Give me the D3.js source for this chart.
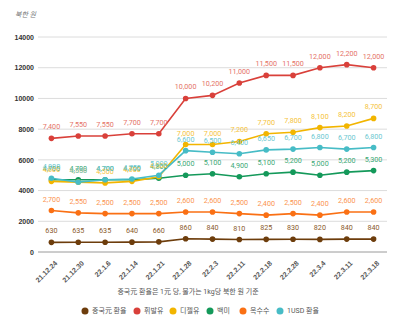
<!DOCTYPE html>
<html><head><meta charset="utf-8">
<script src="https://cdn.jsdelivr.net/npm/d3@7"></script>
<style>body{margin:0;background:#fff;}svg{display:block;font-family:Roboto,"Noto Sans CJK KR",sans-serif;}</style>
</head><body>
<svg id="c" width="400" height="325"></svg>
<script>
const dates = ["21.12.24","21.12.30","22.1.6","22.1.14","22.1.21","22.1.28","22.2.3","22.2.11","22.2.18","22.2.28","22.3.4","22.3.11","22.3.18"];
const yuan     = [630,635,635,640,660,860,840,810,825,830,820,840,840];
const gasoline = [7400,7550,7550,7700,7700,10000,10200,11000,11500,11500,12000,12200,12000];
const diesel   = [4600,4550,4500,4600,4900,7000,7000,7200,7700,7800,8100,8200,8700];
const rice     = [4700,4700,4700,4700,4800,5000,5100,4900,5100,5200,5000,5200,5300];
const corn     = [2700,2550,2500,2500,2500,2600,2600,2500,2400,2500,2400,2600,2600];
const usd      = [4800,4550,4700,4750,5000,6600,6500,6400,6650,6700,6800,6700,6800];
const yTicks = [0,2000,4000,6000,8000,10000,12000,14000];
const seriesNames = ["중국元 환율","휘발유","디젤유","백미","옥수수","1USD 환율"];

const series = [
  {name:seriesNames[0], values:yuan, color:"#6d3d0c", label:"#8a5a2b"},
  {name:seriesNames[1], values:gasoline, color:"#d9403a", label:"#e57368"},
  {name:seriesNames[2], values:diesel, color:"#f2b500", label:"#f5c33b"},
  {name:seriesNames[3], values:rice, color:"#14995a", label:"#3aa874"},
  {name:seriesNames[4], values:corn, color:"#fa7014", label:"#fb9450"},
  {name:seriesNames[5], values:usd, color:"#47bcc6", label:"#6cc8d0"}
];
// draw order: yuan, corn, rice, diesel, usd, gasoline (cyan over yellow)
const drawOrder = [0,4,3,2,5,1];

const svg = d3.select("#c");
const x = d3.scalePoint().domain(dates).range([38,387]).padding(0.5);
const y = d3.scaleLinear().domain([0,14000]).range([252,37]);

svg.append("text").attr("x",15).attr("y",17).attr("font-size",7).attr("font-style","italic")
  .attr("fill","#777").text("북한 원");

const grid = svg.append("g");
yTicks.forEach(t=>{
  grid.append("line").attr("x1",38).attr("x2",387).attr("y1",y(t)).attr("y2",y(t))
    .attr("stroke", t===0 ? "#9a9a9a" : "#dcdcdc").attr("stroke-width", t===0?1:1);
});
const yAxis = d3.axisLeft(y).tickValues(yTicks).tickFormat(d3.format("d")).tickSize(0).tickPadding(4);
const ya = svg.append("g").attr("transform","translate(38,0)").call(yAxis);
ya.select(".domain").remove();
ya.selectAll("text").attr("font-size",7).attr("font-weight","bold").attr("fill","#333");

const xAxis = d3.axisBottom(x).tickSize(0).tickPadding(0);
const xa = svg.append("g").attr("transform","translate(0,258)").call(xAxis);
xa.select(".domain").remove();
xa.selectAll("text").attr("font-size",7).attr("font-weight","bold").attr("fill","#555")
  .attr("text-anchor","end").attr("dy","0.35em")
  .attr("transform","translate(4,4) rotate(-45)");

const line = d3.line().x((d,i)=>x(dates[i])).y(d=>y(d));
const fmt = d3.format(",");
drawOrder.forEach(k=>{
  const s = series[k];
  const g = svg.append("g");
  g.append("path").attr("d",line(s.values)).attr("fill","none").attr("stroke",s.color).attr("stroke-width",1.6);
  g.selectAll("circle").data(s.values).join("circle")
    .attr("cx",(d,i)=>x(dates[i])).attr("cy",d=>y(d)).attr("r",2.8).attr("fill",s.color);
});
drawOrder.forEach(k=>{
  const s = series[k];
  svg.append("g").selectAll("text").data(s.values).join("text")
    .attr("x",(d,i)=>x(dates[i])).attr("y",d=>y(d)-9)
    .attr("text-anchor","middle").attr("font-size",7.2).attr("fill",s.label)
    .text(d=>fmt(d));
});

svg.append("text").attr("x",188).attr("y",294).attr("text-anchor","middle")
  .attr("font-size",7).attr("fill","#555").text("중국元 환율은 1元 당, 물가는 1kg당 북한 원 기준");

const legX = [85,137,173,210,243,280];
series.forEach((s,i)=>{
  const g = svg.append("g").attr("transform",`translate(${legX[i]},311)`);
  g.append("circle").attr("r",3.5).attr("fill",s.color);
  g.append("text").attr("x",7).attr("y",0).attr("dy","0.35em").attr("font-size",7)
    .attr("fill","#555").text(s.name);
});
</script>
</body></html>
